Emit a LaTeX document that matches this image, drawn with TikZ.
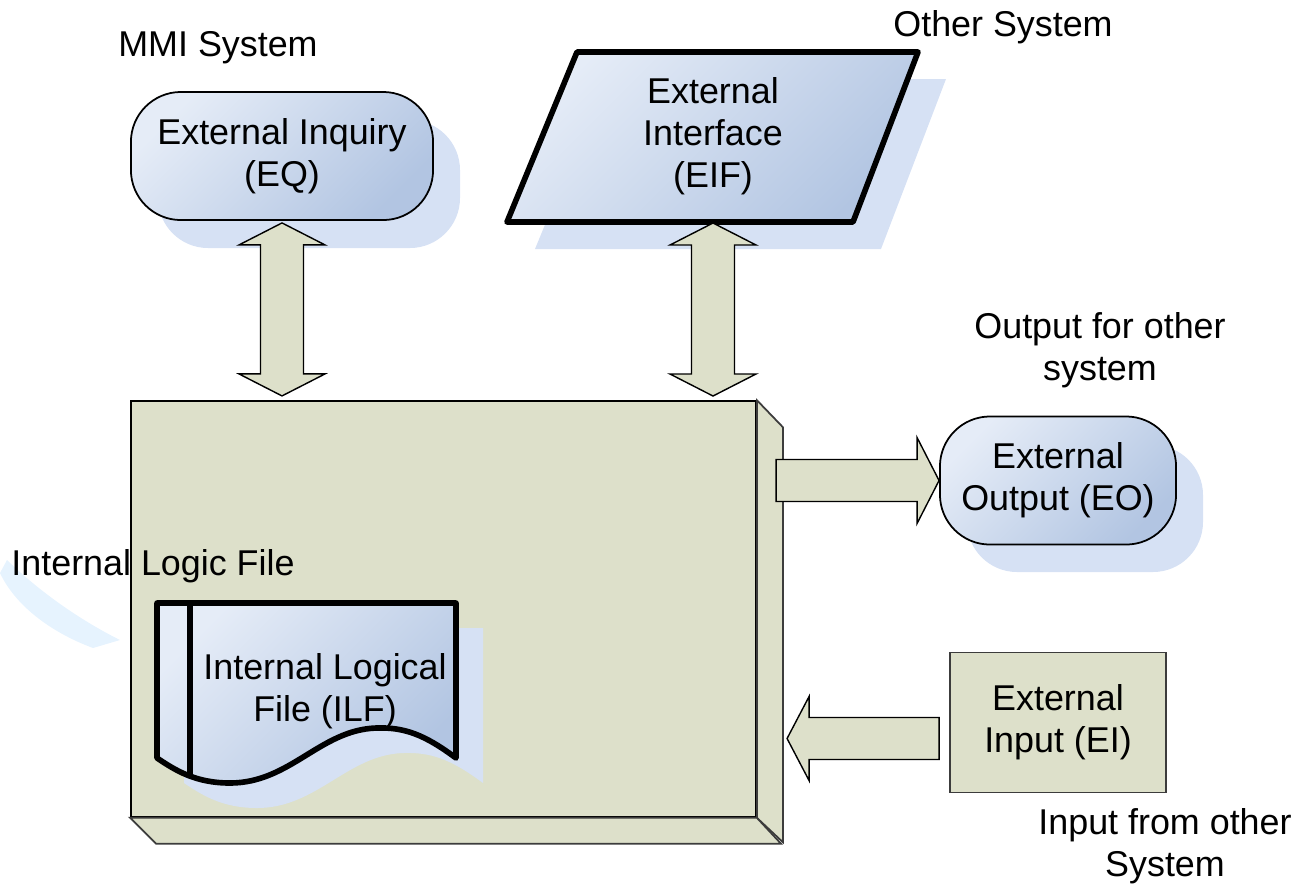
\documentclass[tikz,border=0pt]{standalone}
\usepackage{fontspec}
\setmainfont{Liberation Sans}
\usetikzlibrary{calc,positioning}

\definecolor{boxolive}{RGB}{221,224,202}
\definecolor{shapelight}{RGB}{229,236,247}
\definecolor{shapedark}{RGB}{178,197,226}
\definecolor{shadowblue}{RGB}{214,225,244}
\definecolor{swooshblue}{RGB}{230,243,254}
\definecolor{edgegray}{RGB}{60,60,60}

\tikzset{
  shapegrad/.style={top color=shapelight, bottom color=shapedark, shading angle=45},
  thickedge/.style={draw=black, line width=1.6pt, line join=round},
  roundbox/.style={draw=black, line width=0.5pt, rounded corners=0.5cm, shapegrad, align=center},
  blockarrow/.style={fill=boxolive, draw=black, line width=0.4pt},
  plaintext/.style={align=center, inner sep=0pt}
}

\begin{document}
\begin{tikzpicture}[x=0.01cm,y=-0.01cm,font=\fontsize{10.2}{12}\selectfont]
\newcommand{\twowaylink}[2]{
\draw[blockarrow] (#1) -- ++(43,22) -- ++(-21.5,0) -- ++(0,#2) -- ++(21.5,0) -- ++(-43,22) -- ++(-43,-22) -- ++(21.5,0) -- ++(0,-#2) -- ++(-21.5,0) -- cycle;
}
\newcommand{\docwave}{.. controls +(-31,-23) and +(29,-1) .. ++(-80,-30) .. controls +(-56,2) and +(60,0) .. ++(-146,55) .. controls +(-35,0) and +(18,12) .. ++(-73,-25)}
\useasboundingbox (0,0) rectangle (1300,887);
%Light swoosh at the left
\fill[swooshblue] (7,560) .. controls (40,592) and (80,620) .. (120,640) -- (93,648) .. controls (50,632) and (15,605) .. (0,573) -- cycle;
%Main box with its bevel
\node [draw=black, line width=0.4pt, fill=boxolive, minimum width=6.25cm, minimum height=4.16cm] (box) at (443.5,609) {};
\draw[fill=boxolive, draw=edgegray, line width=0.5pt] (box.north east) -- ++(26,27) -- ++(0,415) -- (box.south east) -- cycle;
\draw[fill=boxolive, draw=edgegray, line width=0.5pt] (box.south west) -- ++(26,26) -- ++(625,0) -- (box.south east) -- cycle;
%Shadows
\fill[shadowblue, rounded corners=0.5cm] (158,120) rectangle (460,248);
\fill[shadowblue] (605,79) -- (946,79) -- (881,249) -- (535,249) -- cycle;
\fill[shadowblue, rounded corners=0.5cm] (967,445) rectangle (1203,572);
\fill[shadowblue] (184,628) -- (483,628) -- (483,783) \docwave -- cycle;
%External inquiry
\node [roundbox, minimum width=3.02cm, minimum height=1.28cm] (eq) at (282,156) {External Inquiry\\(EQ)};
\node [plaintext] (mmi) at (218,48) {MMI System};
%External interface
\coordinate (eiftl) at (577,52);
\coordinate (eiftr) at (918,52);
\coordinate (eifbr) at (853,222);
\coordinate (eifbl) at (507,222);
\coordinate (eifbase) at (713,223);
\draw[thickedge, shapegrad] (eiftl) -- (eiftr) -- (eifbr) -- (eifbl) -- cycle;
\node [plaintext] (eif) at (713,136) {External\\Interface\\(EIF)};
\node [plaintext] (other) at (1003,27) {Other System};
%External output
\node [roundbox, minimum width=2.36cm, minimum height=1.28cm] (eo) at (1058,480.5) {External\\Output (EO)};
\node [plaintext] (outlbl) at (1100,350) {Output for other\\system};
%External input
\node [draw=edgegray, line width=0.5pt, fill=boxolive, minimum width=2.16cm, minimum height=1.4cm, align=center] (ei) at (1058,722.5) {External\\Input (EI)};
\node [plaintext] (inlbl) at (1165,846) {Input from other\\System};
%Internal logical file
\draw[thickedge, shapegrad] (157,603) -- (456,603) -- (456,758) \docwave -- cycle;
\draw[thickedge] (190,603) -- (190,777);
\node [plaintext] (ilf) at (325,691) {Internal Logical\\File (ILF)};
\node [plaintext] (ilflbl) at (153,566) {Internal Logic File};
%Block arrows
\twowaylink{$(eq.south)+(0,2)$}{129}
\twowaylink{eifbase}{129}
\draw[blockarrow] (eo.west) -- ++(-22,-43) -- ++(0,22) -- ++(-141,0) -- ++(0,42) -- ++(141,0) -- ++(0,22) -- cycle;
\draw[blockarrow] ($(ei.west)+(-10,16)$) -- ++(0,21) -- ++(-130,0) -- ++(0,21) -- ++(-22,-42) -- ++(22,-42) -- ++(0,21) -- ++(130,0) -- cycle;
\end{tikzpicture}
\end{document}
